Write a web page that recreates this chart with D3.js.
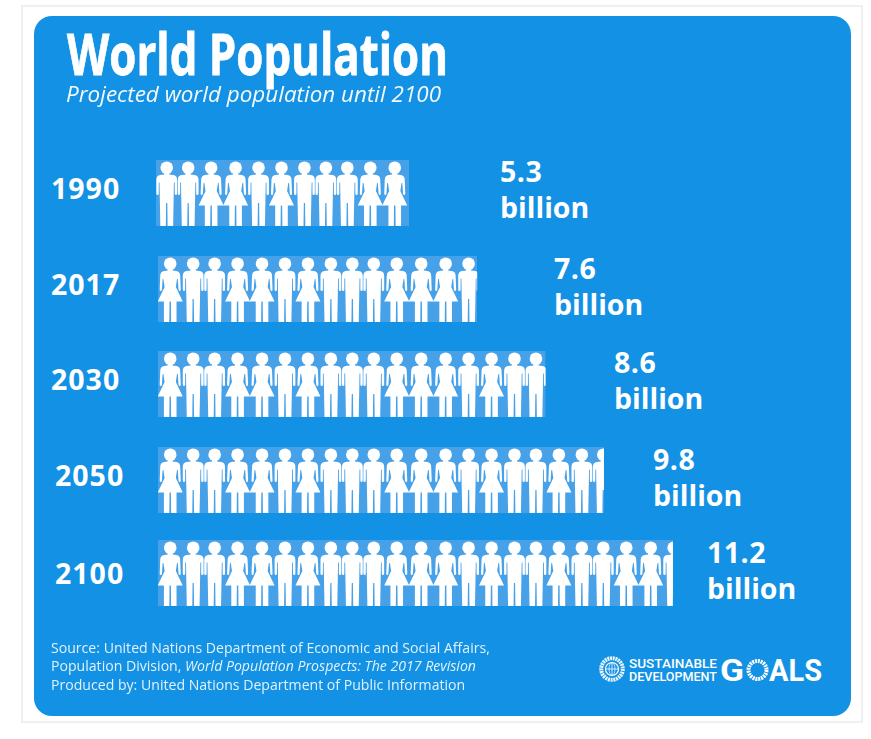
<!DOCTYPE html>
<html><head><meta charset="utf-8">
<script src="https://cdn.jsdelivr.net/npm/d3@7/dist/d3.min.js"></script>
<style>html,body{margin:0;padding:0;background:#fff;overflow:hidden}svg{display:block}text{fill:#fff}</style>
</head><body><svg id="c" width="871" height="739"></svg>
<script>
// ---- data ----
const years = ["1990","2017","2030","2050","2100"];
const valueLabels = ["5.3","7.6","8.6","9.8","11.2"];
const unitLabel = "billion";
// figures drawn per row (a fractional figure is cut off by the row's end)
const figureCounts = [11.1, 13.9, 16.95, 19.53, 22.47];
// m = man, f = woman, read left to right
const row1Figures = "mmffmfmmmff";
const otherRowFigures = "fmmffmfmmmfffmfmmfmmffm";
const titleText = "World Population";
const subtitleText = "Projected world population until 2100";
const sourceLines = [
  [["Source: United Nations Department of Economic and Social Affairs,",false]],
  [["Population Division, ",false],["World Population Prospects: The 2017 Revision",true]],
  [["Produced by: United Nations Department of Public Information",false]]
];
// ---- layout ----
const W=871,H=739,BLUE="#1391e4",BAR="#46a1e8";
const FONT="'Open Sans',sans-serif";
const rowTop=d3.scaleOrdinal().domain(years).range([160,256,351,447,540]);
const rowStart=d3.scaleOrdinal().domain(years).range([156,158,158,158,158]);
const yearX=d3.scaleOrdinal().domain(years).range([51,51,51,55,55]);
const yearBase=d3.scaleOrdinal().domain(years).range([198,294,389,485,583]);
const valueX=d3.scaleOrdinal().domain(years).range([500,554,614,653,707]);
const valueBase=d3.scaleOrdinal().domain(years).range([181,278,372,469,562]);
const rowH=66;
const unit=d3.scaleLinear().domain([0,1]).range([0,21.45]);
const genderUnits={m:1,f:1.14};

const manPath="M-2.5,11L-2.5,14.5L-6.5,15Q-10.4,15.5 -10.4,20L-10.4,33.5Q-10.4,35 -9.2,35Q-8,35 -8,33.5L-8,22.5L-7.2,22.5L-6.4,66L-0.9,66L-0.6,43L0.6,43L0.9,66L6.4,66L7.2,22.5L8,22.5L8,33.5Q8,35 9.2,35Q10.4,35 10.4,33.5L10.4,20Q10.4,15.5 6.5,15L2.5,14.5L2.5,11Z";
const womanPath="M-2.5,11L-2.5,14.5L-6,15Q-10,15.5 -10,20L-10.5,33.5Q-10.5,35 -9.5,35Q-8.5,35 -8.3,33.5L-7.6,23L-6.8,23L-5.6,31L-12.5,45.5L-6.3,45.5L-6.3,66L-0.9,66L-0.7,45.5L0.7,45.5L0.9,66L6.3,66L6.3,45.5L12.5,45.5L5.6,31L6.8,23L7.6,23L8.3,33.5Q8.5,35 9.5,35Q10.5,35 10.5,33.5L10,20Q10,15.5 6,15L2.5,14.5L2.5,11Z";

const svg=d3.select("#c");
const defs=svg.append("defs");
defs.append("filter").attr("id","soft").append("feGaussianBlur").attr("stdDeviation",0.45);
// page frame
svg.append("rect").attr("x",22).attr("y",6).attr("width",840).attr("height",716).attr("fill","#fff").attr("stroke","#ececec").attr("stroke-width",1.5);
svg.append("rect").attr("x",34).attr("y",16).attr("width",817).attr("height",700).attr("rx",18).attr("fill",BLUE);

// headings
svg.append("text").attr("x",67).attr("y",75).attr("font-family",FONT).attr("font-weight",700).attr("font-size",58)
  .attr("stroke","#fff").attr("stroke-width",0.8)
  .attr("textLength",381).attr("lengthAdjust","spacingAndGlyphs").text(titleText);
svg.append("text").attr("x",66).attr("y",102).attr("font-family",FONT).attr("font-style","italic").attr("font-size",22)
  .attr("textLength",375).attr("lengthAdjust","spacingAndGlyphs").attr("opacity",.95).text(subtitleText);

// rows
years.forEach((yr,i)=>{
  const seq=(i===0?row1Figures:otherRowFigures);
  const count=figureCounts[i];
  const n=Math.ceil(count);
  const figs=[];let cum=0;
  for(let k=0;k<Math.min(n,seq.length);k++){
    const g=seq[k],u=genderUnits[g];
    figs.push({g,center:cum+u/2,start:cum,u,k});
    cum+=u;
  }
  const whole=Math.floor(count),frac=count-whole;
  let end=0;
  for(let k=0;k<whole;k++)end+=genderUnits[seq[k]];
  end+=frac*(genderUnits[seq[whole]]||1);
  const x0=rowStart(yr),y0=rowTop(yr),w=unit(end);
  defs.append("clipPath").attr("id","clip"+i).append("rect").attr("x",x0).attr("y",y0).attr("width",w).attr("height",rowH);
  const g=svg.append("g").attr("clip-path",`url(#clip${i})`);
  g.append("rect").attr("x",x0).attr("y",y0).attr("width",w).attr("height",rowH).attr("fill",BAR);
  const p=g.append("g").attr("filter","url(#soft)").selectAll("g").data(figs).join("g").attr("transform",d=>`translate(${x0+unit(d.center)},${y0})`);
  p.append("circle").attr("cx",0).attr("cy",7.8).attr("r",6.3).attr("fill","#fff");
  p.append("path").attr("d",d=>d.g==="m"?manPath:womanPath).attr("fill","#fff");

  const label=(x,y,t)=>svg.append("text").attr("x",x).attr("y",y).attr("font-family",FONT).attr("font-weight",700).attr("font-size",28.5).text(t);
  label(yearX(yr),yearBase(yr)+0.5,yr).attr("letter-spacing",1);
  label(valueX(yr),valueBase(yr)+0.5,valueLabels[i]).attr("letter-spacing",0.5);
  label(valueX(yr),valueBase(yr)+36.5,unitLabel);
});

// source
sourceLines.forEach((line,i)=>{
  const t=svg.append("text").attr("x",51).attr("y",[653,671,690][i]).attr("font-family",FONT).attr("font-size",14.1).attr("opacity",.88);
  line.forEach(([s,it])=>t.append("tspan").attr("font-style",it?"italic":"normal").text(s));
});

// SDG logo
const logo=svg.append("g");
const cx=612,cy=669;
logo.append("circle").attr("cx",cx).attr("cy",cy).attr("r",6.5).attr("fill","none").attr("stroke","#fff").attr("stroke-width",1.2);
logo.append("line").attr("x1",cx-6).attr("x2",cx+6).attr("y1",cy).attr("y2",cy).attr("stroke","#fff").attr("stroke-width",.8);
logo.append("line").attr("x1",cx).attr("x2",cx).attr("y1",cy-6).attr("y2",cy+6).attr("stroke","#fff").attr("stroke-width",.8);
logo.append("ellipse").attr("cx",cx).attr("cy",cy).attr("rx",3).attr("ry",6.3).attr("fill","none").attr("stroke","#fff").attr("stroke-width",.7);
logo.append("circle").attr("cx",cx).attr("cy",cy).attr("r",10.8).attr("fill","none").attr("stroke","#fff").attr("stroke-width",4).attr("stroke-dasharray","2 0.7").attr("opacity",.9);
const small=(y,t)=>logo.append("text").attr("x",629).attr("y",y).attr("font-family","Roboto,sans-serif").attr("font-weight",500).attr("font-size",13).attr("textLength",88).attr("lengthAdjust","spacingAndGlyphs").text(t);
small(667.5,"SUSTAINABLE");
small(680.5,"DEVELOPMENT");
logo.append("text").attr("x",720).attr("y",681).attr("font-family","Roboto,sans-serif").attr("font-weight",700).attr("font-size",32).attr("textLength",24).attr("lengthAdjust","spacingAndGlyphs").text("G");
logo.append("text").attr("x",769).attr("y",681).attr("font-family","Roboto,sans-serif").attr("font-weight",700).attr("font-size",32).attr("textLength",53).attr("lengthAdjust","spacingAndGlyphs").text("ALS");
logo.append("circle").attr("cx",757.5).attr("cy",670).attr("r",9).attr("fill","none").attr("stroke","#fff").attr("stroke-width",4).attr("stroke-dasharray","2 0.83");
</script></body></html>
